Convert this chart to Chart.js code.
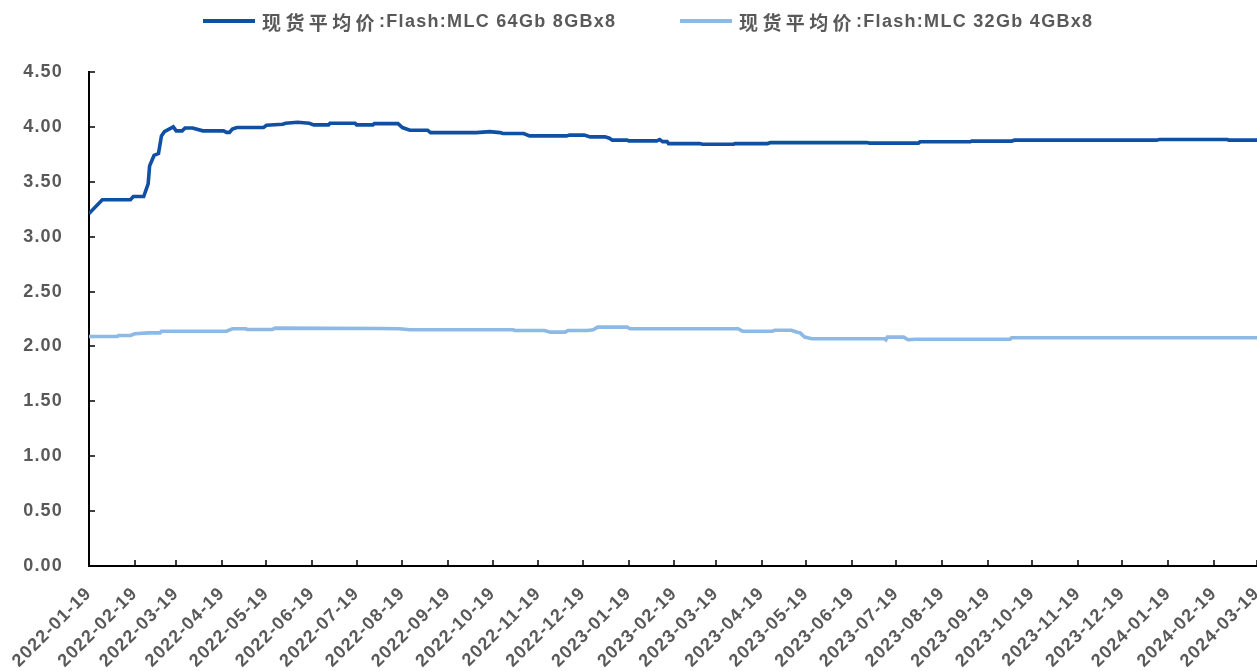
<!DOCTYPE html>
<html>
<head>
<meta charset="utf-8">
<script src="https://cdn.jsdelivr.net/npm/chart.js@4.4.1/dist/chart.umd.min.js"></script>
<style>
  html, body { margin: 0; padding: 0; background: #fff; }
  #wrap { position: relative; width: 1257px; height: 671px; }
  #legend { position: absolute; top: 0; left: 0; width: 1257px; height: 42px; font-family: "Liberation Sans", Arial, "Noto Sans CJK SC", sans-serif; font-weight: bold; font-size: 18px; color: #595959; }
  .item { position: absolute; top: 10px; height: 22px; display: flex; align-items: center; white-space: nowrap; }
  .swatch { display: inline-block; width: 52px; height: 4px; margin-right: 7px; }
  .cjk { font-family: "Noto Sans CJK SC", sans-serif; font-size: 19px; letter-spacing: 4.4px; }
  .lat { letter-spacing: 1.3px; }
</style>
</head>
<body>
<div id="wrap">
  <canvas id="c" width="1257" height="671"></canvas>
  <div id="legend"></div>
</div>
<script>
// ---- data ----
const seriesNames = ["现货平均价:Flash:MLC 64Gb 8GBx8", "现货平均价:Flash:MLC 32Gb 4GBx8"];
const seriesColors = ["#0F50A4", "#8DB9E4"];

const tickLabels = ["2022-01-19","2022-02-19","2022-03-19","2022-04-19","2022-05-19","2022-06-19","2022-07-19","2022-08-19","2022-09-19","2022-10-19","2022-11-19","2022-12-19","2023-01-19","2023-02-19","2023-03-19","2023-04-19","2023-05-19","2023-06-19","2023-07-19","2023-08-19","2023-09-19","2023-10-19","2023-11-19","2023-12-19","2024-01-19","2024-02-19","2024-03-19"];

const dates64 = ["2022-01-19","2022-01-28","2022-02-16","2022-02-18","2022-02-25","2022-02-28","2022-03-01","2022-03-04","2022-03-07","2022-03-09","2022-03-11","2022-03-17","2022-03-19","2022-03-23","2022-03-25","2022-03-30","2022-04-06","2022-04-20","2022-04-22","2022-04-24","2022-04-26","2022-04-29","2022-05-17","2022-05-19","2022-05-30","2022-06-01","2022-06-09","2022-06-17","2022-06-20","2022-06-30","2022-07-01","2022-07-18","2022-07-19","2022-07-30","2022-07-31","2022-08-16","2022-08-19","2022-08-24","2022-09-05","2022-09-07","2022-10-08","2022-10-17","2022-10-24","2022-10-26","2022-11-09","2022-11-13","2022-12-08","2022-12-10","2022-12-20","2022-12-24","2023-01-03","2023-01-06","2023-01-08","2023-01-18","2023-01-19","2023-02-07","2023-02-09","2023-02-11","2023-02-14","2023-02-15","2023-03-08","2023-03-10","2023-03-31","2023-04-01","2023-04-23","2023-04-25","2023-06-29","2023-07-01","2023-08-03","2023-08-04","2023-09-07","2023-09-08","2023-10-05","2023-10-07","2024-01-11","2024-01-13","2024-02-28","2024-02-29","2024-03-19"];
const values64 = [3.21,3.336,3.336,3.366,3.366,3.48,3.645,3.74,3.757,3.918,3.957,4.0,3.964,3.964,3.99,3.99,3.964,3.964,3.95,3.95,3.98,3.994,3.994,4.015,4.024,4.033,4.042,4.033,4.018,4.018,4.033,4.033,4.018,4.018,4.03,4.03,3.994,3.97,3.97,3.948,3.948,3.957,3.948,3.94,3.94,3.918,3.918,3.925,3.925,3.909,3.909,3.897,3.879,3.879,3.873,3.873,3.885,3.866,3.866,3.848,3.848,3.842,3.842,3.848,3.848,3.857,3.857,3.852,3.852,3.864,3.864,3.87,3.87,3.879,3.879,3.885,3.885,3.879,3.879];

const dates32 = ["2022-01-19","2022-02-07","2022-02-08","2022-02-16","2022-02-19","2022-02-28","2022-03-08","2022-03-09","2022-04-22","2022-04-26","2022-05-05","2022-05-06","2022-05-23","2022-05-25","2022-08-04","2022-08-17","2022-08-24","2022-11-02","2022-11-03","2022-11-23","2022-11-27","2022-12-07","2022-12-09","2022-12-22","2022-12-26","2022-12-29","2023-01-18","2023-01-20","2023-04-03","2023-04-06","2023-04-26","2023-04-28","2023-05-09","2023-05-13","2023-05-15","2023-05-18","2023-05-23","2023-07-11","2023-07-12","2023-07-13","2023-07-24","2023-07-27","2023-08-01","2023-10-04","2023-10-05","2024-03-19"];
const values32 = [2.091,2.091,2.1,2.1,2.115,2.124,2.124,2.139,2.139,2.161,2.161,2.155,2.155,2.167,2.164,2.161,2.152,2.152,2.145,2.145,2.13,2.13,2.145,2.145,2.152,2.176,2.176,2.161,2.161,2.139,2.139,2.148,2.148,2.13,2.124,2.085,2.07,2.07,2.06,2.085,2.085,2.061,2.066,2.066,2.079,2.079];

const yMin = 0, yMax = 4.5, yStep = 0.5;

// ---- helpers ----
const startDate = tickLabels[0];
function dayOffset(s) { return (Date.parse(s) - Date.parse(startDate)) / 86400000; }
function toPoints(ds, vs) { return ds.map((d, i) => ({ x: dayOffset(d), y: vs[i] })); }

// ---- HTML legend ----
const legend = document.getElementById('legend');
const legendLeft = [203, 680];
seriesNames.forEach((name, i) => {
  const it = document.createElement('div');
  it.className = 'item';
  it.style.left = legendLeft[i] + 'px';
  const sw = document.createElement('span');
  sw.className = 'swatch';
  sw.style.background = seriesColors[i];
  const idx = name.indexOf(':');
  const a = document.createElement('span'); a.className = 'cjk'; a.textContent = name.slice(0, idx);
  const b = document.createElement('span'); b.className = 'lat'; b.textContent = name.slice(idx);
  it.appendChild(sw); it.appendChild(a); it.appendChild(b);
  legend.appendChild(it);
});

const SPACING = '1.2px';
const spacingPlugin = {
  id: 'spacing',
  beforeUpdate(chart) { chart.ctx.letterSpacing = SPACING; },
  beforeDraw(chart) { chart.ctx.letterSpacing = SPACING; }
};

const innerTicks = {
  id: 'innerTicks',
  afterDraw(chart) {
    const { ctx, chartArea } = chart;
    const xs = chart.scales.x, ys = chart.scales.y;
    ctx.save();
    ctx.strokeStyle = '#000';
    ctx.lineWidth = 1.5;
    ctx.beginPath();
    xs.ticks.forEach(t => {
      const px = Math.round(xs.getPixelForValue(t.value));
      ctx.moveTo(px, chartArea.bottom);
      ctx.lineTo(px, chartArea.bottom - 6);
    });
    ys.ticks.forEach(t => {
      const py = Math.round(ys.getPixelForValue(t.value));
      ctx.moveTo(chartArea.left, py);
      ctx.lineTo(chartArea.left + 6, py);
    });
    ctx.stroke();
    ctx.restore();
  }
};

new Chart(document.getElementById('c'), {
  type: 'line',
  data: {
    datasets: [
      { label: seriesNames[0], data: toPoints(dates64, values64), borderColor: seriesColors[0], backgroundColor: seriesColors[0], borderWidth: 3.6, pointRadius: 0, tension: 0, fill: false },
      { label: seriesNames[1], data: toPoints(dates32, values32), borderColor: seriesColors[1], backgroundColor: seriesColors[1], borderWidth: 3.6, pointRadius: 0, tension: 0, fill: false }
    ]
  },
  options: {
    responsive: false,
    animation: false,
    layout: { padding: { top: 72, left: 0, right: 0, bottom: 0 } },
    plugins: { legend: { display: false }, tooltip: { enabled: false } },
    scales: {
      x: {
        type: 'linear',
        min: 0,
        max: dayOffset(tickLabels[tickLabels.length - 1]),
        afterBuildTicks(scale) { scale.ticks = tickLabels.map(d => ({ value: dayOffset(d) })); },
        afterFit(scale) { scale.paddingLeft = 0; scale.paddingRight = 0; scale.height = 105; },
        grid: { display: false },
        border: { display: true, color: '#000', width: 2 },
        ticks: {
          autoSkip: false, maxRotation: 45, minRotation: 45, padding: 9,
          color: '#595959', font: { family: 'Liberation Sans', weight: 'bold', size: 18 },
          callback: (v, i) => tickLabels[i]
        }
      },
      y: {
        min: yMin, max: yMax,
        afterFit(scale) { scale.width = 89; },
        grid: { display: false },
        border: { display: true, color: '#000', width: 2 },
        ticks: {
          stepSize: yStep, padding: 18,
          color: '#595959', font: { family: 'Liberation Sans', weight: 'bold', size: 18 },
          callback: v => v.toFixed(2)
        }
      }
    }
  },
  plugins: [spacingPlugin, innerTicks]
});
</script>
</body>
</html>
